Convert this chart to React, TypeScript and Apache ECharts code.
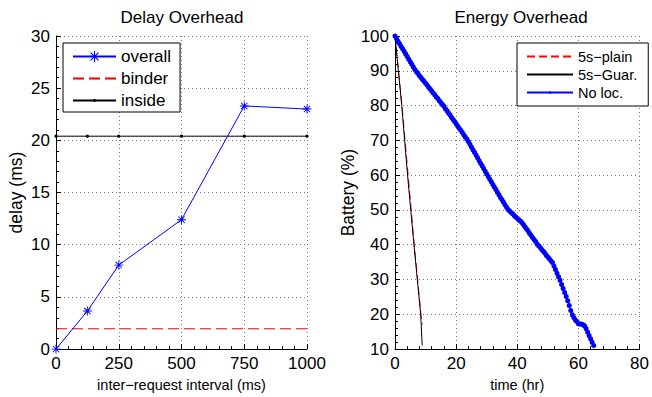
import React, { useEffect, useRef } from "react";
import * as echarts from "echarts";

// ---------- Data ----------
const intervalsMs = [0, 125, 250, 500, 750, 1000];
const overallDelay = [0, 3.65, 8.05, 12.4, 23.3, 23.0];
const binderDelay = [1.95, 1.95, 1.95, 1.95, 1.95, 1.95];
const insideDelay = [20.4, 20.4, 20.4, 20.4, 20.4, 20.4];

const plainHours = [0, 2.3, 4.3, 6.3, 8.5, 8.9];
const plainBattery = [100, 80, 60, 40, 20, 17];
const guarHours = [0, 2.2, 4.1, 6.2, 8.4, 8.9];
const guarBattery = [100, 80, 60, 40, 20, 11];

const noLocStepHr = 0.5;
const noLocBattery = [
  100, 99.3, 98.5, 97.8, 97.0, 96.3, 95.6, 94.8, 94.1, 93.3, 92.6, 91.9, 91.1, 90.4,
  89.7, 89.2, 88.6, 88.1, 87.5, 87.0, 86.4, 85.9, 85.3, 84.8, 84.2, 83.6, 83.1, 82.5, 82.0, 81.4, 80.9, 80.3,
  79.8, 79.1, 78.5, 77.9, 77.3, 76.6, 76.0, 75.4, 74.8, 74.1, 73.5, 72.9, 72.3, 71.6, 71.0, 70.4,
  69.7, 68.9, 68.1, 67.3, 66.6, 65.8, 65.0, 64.2, 63.4, 62.7, 61.9, 61.1, 60.3,
  59.6, 58.8, 58.1, 57.3, 56.6, 55.9, 55.1, 54.4, 53.6, 52.9,
  52.2, 51.5, 50.8, 50.1,
  49.7, 49.3, 48.9, 48.4, 48.0, 47.6, 47.2, 46.8, 46.4,
  45.8, 45.2, 44.6, 44.0, 43.3, 42.7, 42.1, 41.5, 40.9, 40.2,
  39.7, 39.2, 38.6, 38.1, 37.6, 37.0, 36.5, 36.0, 35.4, 34.9,
  33.9, 32.9, 31.8, 30.8,
  29.8, 28.6, 27.4, 26.3, 25.1,
  23.9, 22.5, 21.1,
  19.9, 19.1, 18.4,
  17.9, 17.3, 17.2, 17.2, 17.0, 16.7,
  15.9, 14.9, 13.9, 13.0, 12.0, 11.0,
];

const FONT = '"Liberation Sans", Arial, Helvetica, sans-serif';
const STAR =
  "path://M0,9H20V11H0Z M9,0H11V20H9Z M3.7,2.3L17.7,16.3L16.3,17.7L2.3,3.7Z M17.7,3.7L3.7,17.7L2.3,16.3L16.3,2.3Z";
// small dot centred in an otherwise empty 20x20 box (corner segments have no area)
const DOT =
  "path://M0,0L0.01,0L0,0.01Z M20,20L19.99,20L20,19.99Z M7.5,10A2.5,2.5 0 1,0 12.5,10A2.5,2.5 0 1,0 7.5,10Z";

function axisBase(min: number, max: number, interval: number, gridIndex: number, labelMargin: number) {
  return {
    type: "value",
    gridIndex,
    min,
    max,
    interval,
    axisLine: { show: true, onZero: false, lineStyle: { color: "#000", width: 1 } },
    axisTick: { show: true, inside: true, length: 5, lineStyle: { color: "#000" } },
    minorTick: { show: true, splitNumber: 5, length: 3, lineStyle: { color: "#000" } },
    splitLine: { show: true, lineStyle: { type: [1, 3], color: "#777", width: 1 } },
    axisLabel: {
      color: "#000",
      fontSize: 17,
      fontFamily: FONT,
      margin: labelMargin,
      formatter: (v: number) => String(v),
    },
    nameTextStyle: { color: "#000", fontFamily: FONT },
  };
}

export default function App() {
  const ref = useRef<HTMLDivElement>(null);
  useEffect(() => {
    if (!ref.current) return;
    const chart = echarts.init(ref.current, null, { renderer: "svg" });
    const noLocData = noLocBattery.map((v, i) => [i * noLocStepHr, v]);
    const hide = { itemStyle: { opacity: 0 } };
    chart.setOption({
      animation: false,
      backgroundColor: "#fff",
      textStyle: { fontFamily: FONT },
      grid: [
        { left: 56, top: 36, width: 251, height: 314 },
        { left: 395, top: 36, width: 251, height: 314 },
      ],
      graphic: [
        { type: "text", x: 182, y: 17, style: { text: "Delay Overhead", fontSize: 17, fontFamily: FONT, fill: "#000", textAlign: "center", textVerticalAlign: "middle" } },
        { type: "text", x: 521, y: 17, style: { text: "Energy Overhead", fontSize: 17, fontFamily: FONT, fill: "#000", textAlign: "center", textVerticalAlign: "middle" } },
      ],
      xAxis: [
        {
          ...axisBase(0, 1000, 250, 0, 6),
          name: "inter\u2212request interval (ms)",
          nameLocation: "middle",
          nameGap: 25,
          nameTextStyle: { color: "#000", fontFamily: FONT, fontSize: 14.5 },
        },
        {
          ...axisBase(0, 80, 20, 1, 6),
          name: "time (hr)",
          nameLocation: "middle",
          nameGap: 25,
          nameTextStyle: { color: "#000", fontFamily: FONT, fontSize: 14.5 },
        },
      ],
      yAxis: [
        {
          ...axisBase(0, 30, 5, 0, 6),
          name: "delay (ms)",
          nameLocation: "middle",
          nameGap: 31,
          nameTextStyle: { color: "#000", fontFamily: FONT, fontSize: 17.5 },
        },
        {
          ...axisBase(10, 100, 10, 1, 6),
          name: "Battery (%)",
          nameLocation: "middle",
          nameGap: 34,
          nameTextStyle: { color: "#000", fontFamily: FONT, fontSize: 17.5 },
        },
      ],
      legend: [
        {
          orient: "vertical",
          left: 63,
          top: 43,
          padding: [5, 9, 3, 9],
          itemWidth: 43,
          itemHeight: 14,
          itemGap: 5,
          borderColor: "#000",
          borderWidth: 1,
          backgroundColor: "#fff",
          textStyle: { fontSize: 17, fontFamily: FONT, color: "#000" },
          data: ["overall", { name: "binder", ...hide }, "inside"],
        },
        {
          orient: "vertical",
          left: 517,
          top: 43,
          padding: [6, 11, 6, 9],
          itemWidth: 46,
          itemHeight: 12,
          itemGap: 3,
          borderColor: "#000",
          borderWidth: 1,
          backgroundColor: "#fff",
          textStyle: { fontSize: 14.5, fontFamily: FONT, color: "#000" },
          data: [{ name: "5s\u2212plain", ...hide }, { name: "5s\u2212Guar.", ...hide }, "No loc."],
        },
      ],
      series: [
        {
          name: "overall",
          type: "line",
          xAxisIndex: 0,
          yAxisIndex: 0,
          data: intervalsMs.map((x, i) => [x, overallDelay[i]]),
          symbol: STAR,
          symbolSize: 9,
          showAllSymbol: true,
          lineStyle: { color: "#0000ff", width: 1 },
          itemStyle: { color: "#0000ff" },
          z: 5,
        },
        {
          name: "binder",
          type: "line",
          xAxisIndex: 0,
          yAxisIndex: 0,
          data: intervalsMs.map((x, i) => [x, binderDelay[i]]),
          symbol: "none",
          lineStyle: { color: "#ff0000", width: 1, type: [11, 5] },
          itemStyle: { color: "#ff0000" },
        },
        {
          name: "inside",
          type: "line",
          xAxisIndex: 0,
          yAxisIndex: 0,
          data: intervalsMs.map((x, i) => [x, insideDelay[i]]),
          symbol: DOT,
          symbolSize: 13,
          lineStyle: { color: "#000", width: 1 },
          itemStyle: { color: "#000" },
        },
        {
          name: "5s\u2212plain",
          type: "line",
          xAxisIndex: 1,
          yAxisIndex: 1,
          data: plainHours.map((x, i) => [x, plainBattery[i]]),
          symbol: "none",
          lineStyle: { color: "#ff0000", width: 1, type: [8, 4] },
          itemStyle: { color: "#ff0000" },
        },
        {
          name: "5s\u2212Guar.",
          type: "line",
          xAxisIndex: 1,
          yAxisIndex: 1,
          data: guarHours.map((x, i) => [x, guarBattery[i]]),
          symbol: "none",
          lineStyle: { color: "#000", width: 1 },
          itemStyle: { color: "#000" },
        },
        {
          name: "No loc.",
          type: "line",
          xAxisIndex: 1,
          yAxisIndex: 1,
          data: noLocData,
          symbol: DOT,
          symbolSize: 20,
          showAllSymbol: true,
          lineStyle: { color: "#0000ff", width: 1 },
          itemStyle: { color: "#0000ff" },
        },
      ],
    });
    return () => chart.dispose();
  }, []);
  return (
    <div
      ref={ref}
      style={{ position: "fixed", left: 0, top: 0, width: 652, height: 397, background: "#fff" }}
    />
  );
}
